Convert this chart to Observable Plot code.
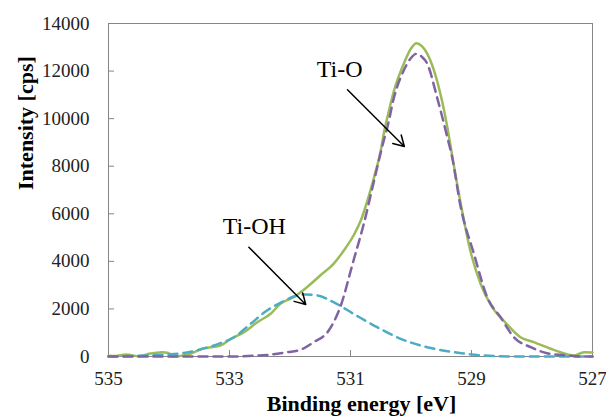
<!DOCTYPE html>
<html><head><meta charset="utf-8">
<script src="https://cdn.jsdelivr.net/npm/d3@7"></script>
<script src="https://cdn.jsdelivr.net/npm/@observablehq/plot@0.6"></script>
<style>
body{margin:0;background:#fff}
#chart svg, #chart svg text { font-family: "Liberation Serif", "Times New Roman", serif !important; }
</style>
</head><body><div id="chart"></div>
<script>
const xTicks = [535, 533, 531, 529, 527];
const yTicks = [0, 2000, 4000, 6000, 8000, 10000, 12000, 14000];

const energyTotal = [535.0, 534.88, 534.71, 534.49, 534.33, 534.11, 534.01, 533.95, 533.68, 533.45, 533.15, 532.98, 532.76, 532.54, 532.32, 532.16, 531.94, 531.72, 531.50, 531.28, 531.11, 530.95, 530.83, 530.72, 530.61, 530.50, 530.44, 530.39, 530.28, 530.12, 530.00, 529.91, 529.82, 529.73, 529.57, 529.40, 529.35, 529.18, 529.02, 528.85, 528.66, 528.47, 528.19, 527.97, 527.69, 527.53, 527.31, 527.14, 527.0];
const intensityTotal = [30, 20, 84, 10, 113, 180, 150, 0, 84, 324, 462, 743, 1022, 1442, 1795, 2215, 2493, 2913, 3405, 3896, 4456, 5087, 5718, 6558, 7538, 8660, 9501, 10060, 11183, 12305, 12950, 13171, 13050, 12726, 11603, 9640, 8900, 6450, 4456, 3056, 2073, 1513, 811, 601, 324, 181, 42, 181, 168];

const energyTiO = [535.0, 533.0, 532.6, 532.38, 532.05, 531.83, 531.61, 531.36, 531.17, 530.95, 530.78, 530.61, 530.45, 530.39, 530.28, 530.12, 530.0, 529.91, 529.82, 529.73, 529.57, 529.40, 529.32, 529.18, 528.96, 528.74, 528.52, 528.30, 528.02, 527.75, 527.42, 527.20, 527.0];
const intensityTiO = [0, 0, 30, 60, 181, 280, 600, 1093, 2073, 4036, 5579, 7399, 9081, 9640, 10901, 12023, 12550, 12726, 12600, 12305, 10901, 9219, 8379, 6300, 4317, 2493, 1652, 811, 391, 139, 42, 0, 0];

const energyTiOH = [535.0, 534.03, 533.70, 533.48, 533.15, 532.93, 532.65, 532.38, 532.16, 531.94, 531.75, 531.55, 531.28, 530.95, 530.56, 530.17, 529.73, 529.29, 528.80, 528.24, 527.0];
const intensityTiOH = [0, 84, 168, 300, 560, 800, 1375, 1934, 2250, 2520, 2610, 2570, 2283, 1795, 1232, 744, 391, 181, 42, 0, 0];

const labelText = ["Ti-O", "Ti-OH"];
const labelEnergy = [531.18, 532.59];
const labelIntensity = [12066, 5465];
const arrowFromEnergy = [531.05, 532.68];
const arrowFromIntensity = [11212, 4595];
const arrowToEnergy = [530.11, 531.74];
const arrowToIntensity = [8828, 2186];

const total = energyTotal.map((e, i) => ({e, v: intensityTotal[i]}));
const tio = energyTiO.map((e, i) => ({e, v: intensityTiO[i]}));
const tioh = energyTiOH.map((e, i) => ({e, v: intensityTiOH[i]}));
const labels = labelText.map((t, i) => ({t, e: labelEnergy[i], v: labelIntensity[i]}));
const arrows = arrowFromEnergy.map((e, i) => ({x1: e, y1: arrowFromIntensity[i], x2: arrowToEnergy[i], y2: arrowToIntensity[i]}));

const fmt = d3.format("d");
const chart = Plot.plot({
  width: 606, height: 417,
  marginLeft: 108, marginRight: 14, marginTop: 23, marginBottom: 61,
  style: "font-family: 'Liberation Serif', 'Times New Roman', serif; background: #fff; color: #222;",
  x: {domain: [535, 527]},
  y: {domain: [0, 14000]},
  marks: [
    Plot.frame({stroke: "#868686", strokeWidth: 1}),
    Plot.ruleX(xTicks.slice(1, -1), {y1: 0, y2: 250, stroke: "#868686"}),
    Plot.ruleY(yTicks.slice(1, -1), {x1: 535, x2: 534.9, stroke: "#868686"}),
    Plot.axisX(xTicks, {tickSize: 0, tickPadding: 15, fontSize: 19, label: null, tickFormat: fmt}),
    Plot.axisY(yTicks, {tickSize: 0, tickPadding: 19, fontSize: 19, label: null, tickFormat: fmt}),
    Plot.text(["Intensity [cps]"], {frameAnchor: "left", rotate: -90, dx: -83, fontWeight: "bold", fontSize: 22, fill: "#000"}),
    Plot.text(["Binding energy [eV]"], {frameAnchor: "bottom", dx: 11, dy: 54, fontWeight: "bold", fontSize: 22, fill: "#000"}),
    Plot.line(total, {x: "e", y: "v", stroke: "#9BBB59", strokeWidth: 2.5, curve: "monotone-x"}),
    Plot.line(tioh, {x: "e", y: "v", stroke: "#4BACC6", strokeWidth: 2.5, strokeDasharray: "9,6", curve: "monotone-x"}),
    Plot.line(tio, {x: "e", y: "v", stroke: "#8064A2", strokeWidth: 2.5, strokeDasharray: "9,6", curve: "monotone-x"}),
    Plot.arrow(arrows, {x1: "x1", y1: "y1", x2: "x2", y2: "y2", stroke: "#000", strokeWidth: 1.5, headLength: 12}),
    Plot.text(labels, {x: "e", y: "v", text: "t", fontSize: 24, fill: "#000"})
  ]
});
document.getElementById("chart").appendChild(chart);
</script>
</body></html>
